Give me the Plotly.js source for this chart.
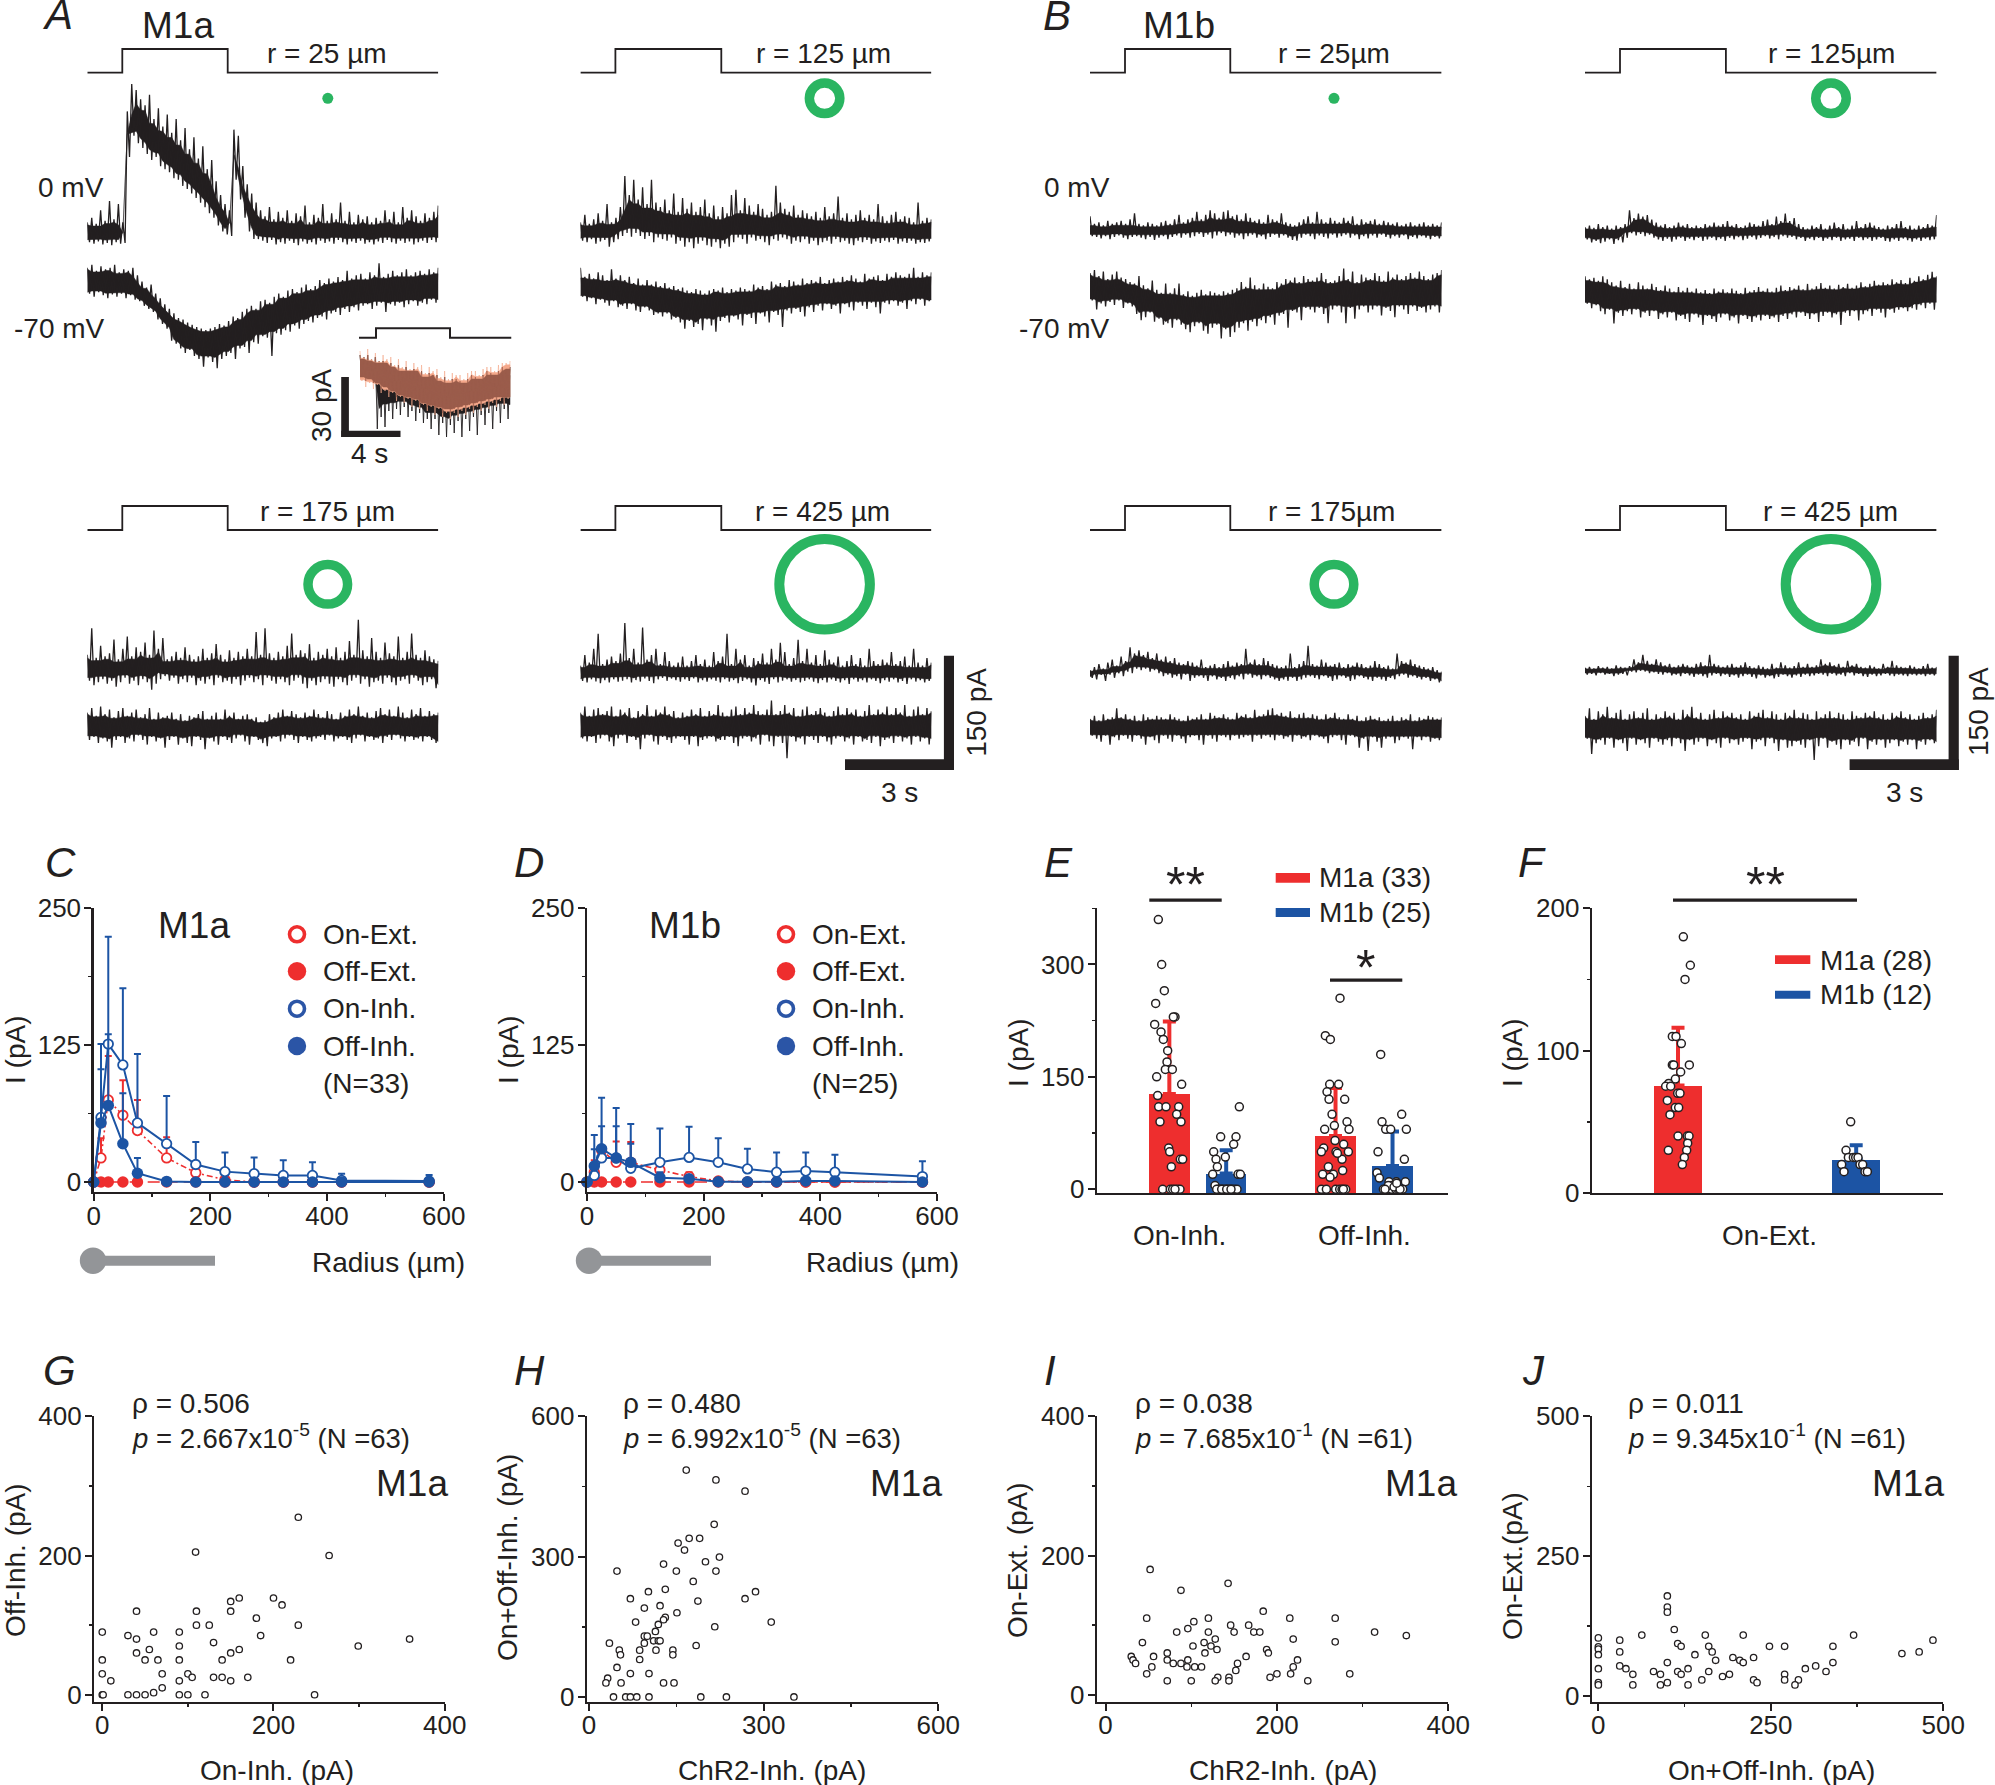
<!DOCTYPE html>
<html><head><meta charset="utf-8">
<script src="https://cdn.plot.ly/plotly-3.0.1.min.js"></script>
<style>html,body{margin:0;padding:0;background:#fff}#g{width:1995px;height:1785px}.xtick text,.ytick text{letter-spacing:-0.8px}</style></head>
<body><div id="g"></div>
<script>
// ---------- recorded traces, read as upper/lower envelopes (pA, relative to each trace's resting level)
const a25ZeroHi=[14,20,12,30,16,42,18,38,14,160,196,188,176,168,182,150,164,140,156,132,150,122,138,110,126,98,114,84,96,68,50,38,30,136,128,88,64,52,40,30,22,34,18,28,20,30,16,26,22,36,14,24,20,38,16,26,18,40,16,28,14,24,18,22,14,20,16,30,18,28,14,34,20,30,22,16,26,20,28,36];
const a25ZeroLo=[-12,-14,-11,-15,-13,-16,-12,-14,-13,100,128,118,112,104,96,100,88,84,80,72,70,62,58,52,46,40,34,26,20,10,2,-2,-4,70,44,20,2,-8,-8,-10,-13,-9,-15,-12,-14,-10,-13,-16,-11,-14,-12,-15,-10,-13,-11,-14,-9,-12,-15,-11,-13,-10,-14,-12,-15,-11,-13,-9,-12,-14,-10,-13,-11,-15,-12,-10,-13,-9,-12,-11];
const a25NegHi=[20,24,16,22,18,20,24,14,18,16,20,10,2,-6,-2,-14,-20,-28,-34,-40,-46,-48,-52,-55,-58,-60,-62,-60,-58,-54,-56,-50,-44,-46,-38,-34,-30,-34,-24,-22,-26,-18,-14,-18,-10,-8,-12,-6,-2,-8,-4,4,0,6,2,8,4,16,6,10,12,6,14,10,26,8,12,16,10,14,18,10,14,16,12,18,14,20];
const a25NegLo=[-14,-18,-12,-16,-20,-15,-18,-14,-20,-16,-22,-24,-30,-34,-38,-48,-54,-60,-76,-80,-86,-92,-88,-96,-100,-110,-98,-104,-112,-100,-96,-92,-100,-86,-84,-92,-78,-80,-70,-72,-96,-66,-68,-62,-64,-56,-60,-54,-50,-52,-46,-44,-48,-40,-38,-42,-34,-38,-32,-36,-30,-28,-34,-30,-26,-38,-28,-30,-26,-32,-28,-24,-30,-26,-28,-22,-26,-24];
const a125ZeroHi=[14,24,12,18,26,16,38,14,20,34,75,50,70,44,60,38,70,40,34,44,30,52,28,46,32,40,28,34,44,26,36,22,34,26,50,57,30,46,36,28,38,32,24,28,62,40,32,28,36,24,30,26,22,28,20,34,22,26,48,20,26,18,24,30,20,24,18,38,22,16,24,28,18,22,20,14,40,16,20,18];
const a125ZeroLo=[-10,-12,-8,-14,-11,-9,-18,-12,-8,-4,0,-5,0,-4,-8,-4,-12,-6,-8,-10,-6,-14,-10,-18,-12,-20,-14,-10,-16,-18,-12,-20,-14,-18,-12,-6,-8,-14,-6,-10,-8,-12,-16,-8,-10,-6,-8,-14,-10,-12,-8,-14,-10,-16,-12,-10,-14,-8,-12,-10,-14,-16,-10,-12,-9,-14,-11,-13,-10,-12,-9,-14,-11,-13,-10,-14,-12,-13,-11,-12];
const a125NegHi=[20,8,12,6,14,10,4,18,6,10,4,8,0,6,-2,4,-2,2,-4,0,-6,-4,-8,-6,-10,-12,-8,-10,-14,-10,-8,-10,-6,-12,-8,-10,-6,-8,-10,-2,-6,-4,-8,2,-2,0,-4,4,2,-2,6,0,4,2,8,0,4,6,2,8,4,10,6,2,12,6,8,10,4,12,8,14,10,8,12,20,8,14,10,14];
const a125NegLo=[-18,-24,-20,-28,-22,-26,-30,-24,-32,-30,-34,-28,-36,-38,-32,-36,-42,-40,-44,-40,-48,-46,-52,-60,-50,-58,-54,-62,-48,-56,-64,-50,-46,-52,-44,-48,-56,-42,-46,-54,-40,-44,-52,-38,-42,-58,-36,-40,-34,-38,-44,-32,-38,-30,-36,-28,-34,-30,-40,-28,-32,-36,-26,-30,-34,-26,-32,-40,-26,-28,-24,-30,-26,-34,-24,-28,-22,-30,-24,-26];
const a175ZeroHi=[20,55,16,32,18,22,40,14,28,44,18,30,24,36,20,52,28,42,14,18,24,16,30,20,14,18,28,16,22,34,20,14,26,16,24,18,28,18,50,20,55,22,16,24,18,32,48,20,26,22,34,16,24,20,28,18,30,16,24,38,20,66,26,18,42,24,16,36,22,18,44,16,24,48,20,16,26,18,14,12];
const a175ZeroLo=[-14,-20,-16,-12,-18,-14,-22,-16,-10,-18,-14,-20,-12,-16,-26,-18,-12,-8,-14,-10,-18,-12,-16,-10,-20,-14,-18,-12,-20,-10,-16,-14,-18,-12,-20,-14,-10,-16,-12,-20,-10,-14,-18,-12,-16,-20,-14,-10,-18,-24,-14,-20,-16,-12,-18,-22,-12,-16,-20,-14,-10,-18,-12,-22,-16,-14,-18,-10,-16,-20,-14,-12,-18,-10,-14,-20,-16,-12,-24,-26];
const a175NegHi=[14,20,10,22,12,18,8,16,20,10,14,18,8,12,20,6,14,8,10,14,6,12,4,10,8,12,16,6,10,14,6,18,10,14,6,10,12,6,8,2,4,12,8,14,18,10,16,12,8,14,10,18,12,8,16,12,6,14,10,18,12,22,10,14,8,16,20,12,18,10,22,14,8,18,12,20,10,16,12,14];
const a175NegLo=[-22,-18,-26,-20,-24,-32,-22,-18,-26,-20,-24,-16,-22,-28,-18,-24,-20,-32,-22,-18,-28,-20,-26,-30,-18,-22,-34,-20,-24,-28,-18,-22,-26,-20,-16,-24,-28,-18,-22,-26,-30,-20,-18,-24,-20,-16,-22,-26,-18,-22,-24,-20,-18,-22,-16,-24,-20,-18,-22,-26,-20,-16,-24,-18,-22,-20,-26,-18,-22,-16,-20,-24,-18,-22,-20,-24,-18,-22,-26,-26];
const a425ZeroHi=[8,22,12,30,50,10,16,20,14,24,64,18,30,12,58,16,22,30,10,26,14,8,12,20,8,14,22,10,16,8,26,14,20,50,10,30,16,22,8,18,14,24,12,30,16,38,26,10,18,42,14,30,12,22,10,28,16,12,20,8,14,22,10,18,8,30,14,10,16,12,26,10,14,20,8,30,12,8,18,12];
const a425ZeroLo=[-12,-14,-10,-13,-15,-11,-14,-10,-13,-12,-10,-14,-11,-13,-9,-12,-15,-10,-8,-12,-9,-11,-13,-10,-12,-9,-14,-11,-13,-10,-12,-14,-10,-13,-11,-15,-12,-10,-14,-18,-11,-13,-16,-10,-14,-12,-10,-13,-11,-14,-12,-10,-13,-15,-11,-14,-10,-12,-14,-11,-16,-10,-13,-11,-14,-10,-12,-15,-11,-13,-10,-14,-12,-16,-10,-13,-11,-14,-12,-13];
const a425NegHi=[14,22,10,18,20,12,16,22,10,18,14,20,8,16,12,24,10,18,14,22,12,16,8,14,10,18,12,20,10,16,12,24,14,10,18,22,12,20,14,24,16,12,18,30,12,16,24,14,20,10,18,22,12,16,20,14,10,16,22,12,20,14,18,10,16,24,12,18,14,22,12,20,14,24,10,18,22,12,20,16];
const a425NegLo=[-20,-24,-18,-26,-20,-16,-24,-30,-20,-16,-26,-18,-22,-34,-20,-16,-24,-28,-18,-22,-26,-20,-18,-22,-28,-18,-30,-22,-20,-18,-24,-22,-22,-18,-26,-30,-20,-18,-24,-20,-28,-16,-24,-30,-18,-26,-46,-18,-24,-20,-28,-18,-22,-26,-18,-24,-28,-20,-18,-24,-20,-28,-18,-24,-22,-26,-18,-30,-22,-20,-26,-18,-24,-20,-28,-18,-24,-20,-28,-22];
const b25ZeroHi=[18,8,10,6,12,8,10,12,8,14,22,8,6,10,8,6,10,12,8,14,20,10,14,16,24,14,20,26,22,16,24,26,18,20,14,22,16,12,14,10,20,14,12,22,10,8,6,10,14,18,10,24,14,10,16,12,10,16,12,18,8,14,10,12,14,8,12,10,8,10,6,8,10,6,8,10,6,8,6,10];
const b25ZeroLo=[-8,-9,-11,-8,-12,-9,-7,-10,-12,-9,-8,-10,-12,-9,-13,-10,-8,-12,-9,-7,-10,-6,-10,-8,-5,-9,-6,-11,-7,-4,-8,-6,-10,-7,-12,-8,-6,-10,-8,-12,-9,-6,-10,-7,-10,-13,-14,-10,-6,-8,-12,-7,-9,-11,-6,-10,-8,-6,-10,-7,-12,-8,-11,-7,-10,-6,-9,-11,-8,-10,-7,-12,-9,-11,-8,-10,-12,-9,-11,-10];
const b25NegHi=[18,22,14,20,10,16,20,12,10,6,4,14,2,-2,8,-4,-8,4,-8,-2,4,-10,-6,-12,-8,-4,-10,-6,-8,-10,-6,-8,-4,-2,6,0,12,2,-2,4,0,-2,6,4,10,8,12,6,14,10,8,12,18,10,6,8,14,24,10,20,6,16,12,10,18,14,8,20,12,16,10,14,18,12,20,14,10,16,18,22];
const b25NegLo=[-18,-30,-22,-26,-20,-24,-18,-28,-22,-26,-36,-44,-40,-34,-46,-42,-50,-48,-54,-44,-50,-56,-60,-52,-48,-58,-62,-54,-50,-68,-56,-66,-60,-54,-48,-58,-46,-52,-44,-48,-40,-50,-38,-36,-54,-32,-34,-44,-28,-30,-34,-28,-36,-48,-30,-26,-34,-48,-28,-42,-30,-26,-34,-30,-26,-38,-28,-32,-40,-26,-30,-36,-26,-32,-28,-34,-30,-26,-34,-28];
const b125ZeroHi=[6,8,5,10,6,8,4,8,6,10,28,18,24,20,22,16,12,8,10,6,8,12,8,10,6,8,6,10,8,12,8,10,14,8,10,6,8,12,10,8,14,16,10,20,14,24,14,18,10,6,4,8,6,10,4,8,12,6,10,4,8,14,6,10,12,8,6,4,8,6,10,14,6,8,4,8,6,10,8,22];
const b125ZeroLo=[-10,-14,-12,-15,-13,-10,-16,-11,-14,-8,-2,-5,-3,-6,-4,-8,-10,-12,-9,-13,-10,-8,-12,-9,-11,-8,-12,-10,-8,-11,-9,-12,-8,-10,-7,-11,-9,-7,-10,-8,-6,-9,-7,-10,-6,-8,-7,-10,-8,-12,-9,-11,-8,-12,-9,-11,-8,-12,-10,-9,-12,-8,-11,-9,-12,-10,-8,-12,-13,-10,-12,-9,-11,-13,-10,-12,-9,-11,-10,-8];
const b125NegHi=[18,14,16,12,18,14,10,6,12,4,8,2,10,6,2,8,4,0,6,2,-2,4,-1,3,-2,2,-3,0,-4,2,-2,1,-3,2,-1,-4,3,-2,0,4,-1,2,-2,3,6,0,4,2,6,1,8,2,5,9,3,6,2,7,4,8,3,6,10,5,8,12,7,10,8,14,10,13,9,16,12,18,14,20,24,18];
const b125NegLo=[-18,-24,-20,-28,-32,-26,-44,-30,-34,-28,-32,-26,-36,-30,-34,-28,-38,-32,-36,-30,-40,-34,-38,-42,-32,-36,-46,-34,-38,-42,-36,-32,-40,-36,-44,-34,-38,-42,-36,-40,-34,-38,-36,-42,-34,-38,-32,-36,-30,-34,-38,-32,-42,-34,-30,-36,-32,-46,-30,-34,-28,-40,-32,-28,-34,-26,-30,-36,-26,-30,-26,-24,-28,-24,-26,-20,-24,-18,-26,-18];
const b175ZeroHi=[2,6,10,4,12,16,8,20,14,32,24,28,22,26,18,24,16,20,14,18,12,10,14,12,8,16,6,8,10,6,10,14,8,12,10,30,12,16,10,18,14,10,8,6,8,24,6,10,14,34,10,8,16,12,8,10,12,6,10,8,12,10,6,8,14,10,6,8,4,24,14,12,16,10,8,6,4,6,2,0];
const b175ZeroLo=[-8,-10,-4,-12,-4,-8,-2,-6,0,-2,4,2,4,0,2,-2,-6,-4,-8,-6,-10,-4,-12,-8,-6,-8,-12,-6,-10,-8,-12,-8,-10,-6,-10,-4,-8,-6,-10,-6,-8,-10,-12,-10,-12,-8,-12,-10,-8,-6,-8,-10,-6,-8,-12,-10,-6,-8,-12,-10,-6,-8,-10,-12,-8,-10,-12,-8,-10,-6,-4,-8,-6,-8,-10,-8,-12,-10,-14,-16];
const b175NegHi=[8,12,6,14,8,10,22,10,14,8,12,6,14,10,8,12,10,8,14,10,8,6,12,8,10,14,8,16,12,10,14,10,8,16,12,14,10,20,12,14,20,22,14,16,12,18,10,14,16,10,14,12,8,14,10,16,10,8,14,8,12,6,10,12,8,10,6,8,12,6,10,8,14,6,10,8,12,10,8,10];
const b175NegLo=[-14,-18,-22,-14,-26,-16,-20,-14,-18,-22,-14,-18,-26,-16,-20,-24,-14,-18,-22,-14,-18,-24,-16,-14,-20,-26,-14,-18,-22,-14,-16,-20,-14,-18,-16,-14,-22,-14,-18,-14,-16,-20,-14,-18,-16,-22,-14,-18,-16,-20,-14,-16,-18,-24,-16,-14,-20,-26,-14,-16,-30,-18,-34,-16,-22,-30,-18,-16,-24,-20,-16,-18,-32,-16,-20,-16,-22,-18,-20,-18];
const b425ZeroHi=[3,4,2,5,3,4,2,6,4,3,5,14,10,20,12,8,14,10,6,8,4,6,8,6,4,8,10,6,20,8,6,4,6,8,4,6,10,5,3,6,4,2,8,3,10,6,3,5,10,4,8,4,6,14,8,10,6,8,4,12,6,8,4,3,6,4,2,8,4,12,6,4,3,6,4,2,5,8,3,4];
const b425ZeroLo=[-6,-5,-7,-4,-6,-5,-8,-6,-5,-7,-2,-3,-1,-2,-4,-3,-5,-6,-4,-7,-6,-8,-5,-7,-9,-6,-8,-10,-7,-5,-8,-6,-9,-7,-10,-8,-6,-9,-11,-7,-10,-8,-11,-9,-6,-8,-10,-7,-9,-6,-8,-7,-5,-6,-8,-5,-7,-6,-8,-4,-7,-5,-8,-9,-6,-8,-7,-5,-7,-8,-6,-7,-8,-6,-7,-6,-8,-6,-7,-6];
const b425NegHi=[12,22,8,18,14,24,10,16,20,8,14,18,10,16,22,8,14,10,18,12,16,8,20,14,24,10,16,8,14,20,10,18,12,16,10,14,8,18,12,16,20,10,18,14,8,16,12,20,10,16,14,8,18,10,14,18,10,16,14,8,18,12,10,16,12,18,10,14,8,16,12,18,10,14,8,12,16,10,14,20];
const b425NegLo=[-18,-38,-24,-20,-26,-18,-30,-20,-24,-34,-18,-26,-20,-24,-30,-18,-22,-26,-20,-28,-18,-24,-34,-20,-26,-22,-18,-28,-20,-24,-30,-18,-24,-20,-26,-22,-18,-32,-22,-20,-28,-18,-24,-34,-20,-30,-28,-22,-26,-30,-20,-46,-28,-18,-30,-22,-26,-32,-20,-26,-22,-28,-18,-32,-22,-26,-20,-30,-24,-20,-28,-22,-26,-20,-32,-22,-26,-20,-24,-30];
// inset of panel A (pA)
const insetSalmonHi=[13,10,14,9,12,8,11,9,10,6,9,5,8,4,7,5,6,2,5,3,4,0,3,-1,2,1,1,-1,2,3,3,1,4,5,5,3,6,7,7,8];
const insetSalmonLo=[-2,-5,-3,-6,-4,-8,-7,-10,-8,-12,-10,-13,-11,-15,-12,-16,-14,-17,-15,-19,-16,-20,-18,-21,-18,-20,-17,-19,-16,-18,-15,-17,-14,-16,-13,-15,-12,-14,-11,-12];
const insetBrownHi=[11,9,11,8,10,7,8,7,7,5,6,3,5,3,4,3,3,0,2,1,1,-2,0,-3,-1,-1,-2,-3,-1,1,0,-1,1,3,2,1,3,5,4,5];
const insetBrownLo=[0,-2,-1,-3,-3,-6,-5,-8,-7,-10,-9,-11,-10,-12,-11,-14,-13,-15,-14,-16,-15,-18,-16,-18,-16,-17,-15,-16,-14,-15,-13,-14,-12,-13,-11,-12,-10,-12,-10,-10];
const insetBlackHi=[11,10,11,9,10,8,8,6,7,5,6,4,5,3,4,2,3,1,2,0,1,-1,0,-2,-1,-3,-2,-2,-1,-1,0,0,1,1,2,2,3,3,4,5];
const insetBlackLo=[0,-1,-1,-3,-26,-20,-25,-17,-21,-16,-19,-15,-20,-17,-22,-18,-23,-21,-26,-21,-29,-23,-30,-24,-28,-22,-30,-21,-27,-20,-29,-19,-24,-18,-26,-17,-23,-16,-21,-17];

// ---------- panels C, D
const radius=[0,12.5,25,50,75,125,175,225,275,325,375,425,575];
const seriesNames=['On-Ext.','Off-Ext.','On-Inh.','Off-Inh.'];
const cOnExt=[0,22,75,61,47,22,8.5,2,0,0,0,0,0];
const cOnExtTop=[0,40,115,93,75,41,16,6,1.5,4,0,0,0];
const cOffExt=[0,0,0,0,0,0,0,0,0,0,0,0,0];
const cOffExtTop=[0,1,1,1,1,1,1,1,1,1,0,0,0];
const cOnInh=[0,59,126,107,54,35,16,9.5,7.6,6,6,1.5,1];
const cOnInhTop=[0,126,224,177,117,78.5,36.5,27,22.5,20,18,7.6,6.4];
const cOffInh=[0,54,70,35,8,0.6,0,0,0,0,0,0,0];
const cOffInhTop=[0,103,135,81,22,3,0.5,0.5,0.5,0.5,0.5,0.5,0.5];
const dOnExt=[0,9,29,18,18,11,5,1,0,0,0,0,0];
const dOnExtTop=[0,20,33,37,36.5,15,9,2,0,0,0,0,0];
const dOffExt=[0,0,0,0,0,0,0,0,0,0,0,0,0];
const dOffExtTop=[0,1,1,1,1,1,1,1,1,1,1,1,0];
const dOnInh=[0,6,22,22,12.5,18,22.5,18,12,9,10,9,5];
const dOnInhTop=[0,43,77,67.6,53,49,50.5,40,30.5,27,27,25,19];
const dOffInh=[0,14.6,30.4,22,18,4,3,0.3,0.3,0.3,1,1,0];
const dOffInhTop=[0,30,51,51,35,9,5,1,1,1,2,2,0.5];
const xRadiusTicks=[0,200,400,600], xRadiusMinor=[100,300,500], yCurrentTicks=[0,125,250], yCurrentMinor=[62.5,187.5];

// ---------- panels E, F
const eCategories=['On-Inh.','Off-Inh.'];
const eLegend=['M1a (33)','M1b (25)'];
const eMeanM1a=[127,71], eMeanM1b=[21,31], eErrM1a=[97,64], eErrM1b=[31,46];
const eOnM1aPos=[475,485,493,467,525,520,464,483,490,503,501,496,517,470,545,473,476,498,536,530,480,543,506,509,541,548,514,488,511,518,532,540,525];
const eOnM1aVal=[360,300,265,248,230,230,220,210,200,185,170,160,160,150,140,125,110,110,110,100,90,90,55,50,40,40,30,0,0,0,0,0,0];
const eOnM1bPos=[718,662,708,701,641,676,648,652,638,714,721,645,655,662,669,676,683,690,697,704,711,650,665,680,693];
const eOnM1bVal=[110,70,70,60,50,43,40,30,20,20,20,5,0,0,0,0,0,0,0,0,0,0,0,0,0];
const eOffM1aPos=[1020,976,991,989,1016,981,987,1034,996,1041,1003,974,1047,1005,1031,971,964,1008,1045,1026,985,968,1000,1028,964,979,1007,1019,1026,1037,1012,1030,990];
const eOffM1aVal=[255,205,200,140,140,130,120,120,100,90,85,80,80,65,60,55,50,50,50,40,30,20,20,25,0,0,0,0,0,0,48,0,16];
const eOffM1bPos=[1142,1205,1146,1157,1172,1219,1134,1213,1131,1138,1189,1216,1167,1175,1150,1160,1175,1187,1195,1208,1165,1182,1200,1155,1190];
const eOffM1bVal=[180,100,90,80,80,80,50,40,22,15,10,10,10,5,0,0,0,0,0,0,5,3,0,0,8];
const fCategory=['On-Ext.'];
const fLegend=['M1a (28)','M1b (12)'];
const fMeanM1a=[75.5], fMeanM1b=[23.5], fErrM1a=[40.5], fErrM1b=[10];
const fM1aPos=[580,601,585,547,558,574,547,551,598,572,556,536,527,542,563,570,532,556,566,540,564,592,597,593,535,590,583,577];
const fM1aVal=[180,160,150,110,110,105,90,90,90,85,80,77,75,75,70,70,65,60,60,55,40,40,40,35,30,30,25,20];
const fM1bPos=[1082,1068,1075,1090,1097,1104,1055,1110,1118,1062,1125,1132];
const fM1bVal=[50,30,25,25,25,25,20,20,20,15,15,15];

// ---------- panels G-J
const gX=[229,109,265,160,150,200,210,40,110,150,180,110,125,229,0,60,90,30,185,40,359,130,90,299,55,160,40,150,0,50,65,90,140,220,0,70,100,105,130,140,170,10,90,150,70,60,0,1,30,40,50,90,100,120,248];
const gY=[255,205,200,139,134,139,129,120,120,120,110,100,100,100,90,90,90,85,85,80,80,75,70,70,65,65,60,60,50,50,50,50,50,50,30,30,30,25,25,25,25,20,20,20,10,3,0,0,0,0,0,0,0,0,0];
const hX=[167,218,268,215,172,190,153,164,224,200,128,48,150,218,179,131,102,286,71,268,187,122,95,151,131,128,80,313,119,216,114,95,100,111,119,122,95,35,184,52,87,115,144,54,144,87,48,71,103,32,29,55,128,146,42,63,71,82,103,192,236,352];
const hY=[485,464,440,369,339,339,329,314,299,289,284,269,269,269,247,230,225,225,210,210,205,195,190,180,170,165,160,160,155,150,140,130,130,120,120,120,115,115,110,100,100,100,100,90,90,80,63,50,50,40,30,30,30,30,0,0,0,0,0,0,0,0];
const iX=[52,143,88,184,48,120,215,268,103,146,167,96,83,120,150,173,180,314,351,128,219,268,43,115,102,123,130,188,72,116,190,30,56,164,32,72,96,224,35,79,88,154,54,95,104,112,219,152,48,200,216,285,131,144,192,72,100,128,144,236];
const iY=[180,160,150,120,110,110,110,110,105,100,100,95,90,90,90,90,90,90,85,80,80,76,75,75,70,70,65,65,60,60,60,55,55,55,50,50,50,50,45,45,45,45,40,40,40,40,40,35,30,30,30,30,25,25,25,20,20,20,20,20];
const jX=[100,100,100,110,0,63,155,210,370,31,485,115,120,160,248,270,340,0,0,165,31,465,440,0,140,195,225,205,170,210,100,340,31,315,40,130,300,0,115,160,80,330,50,90,120,190,270,180,150,225,270,290,230,100,0,0,50,90,130,285];
const jY=[179,159,150,119,104,109,109,109,109,100,100,94,89,89,89,89,89,88,84,79,79,79,76,74,74,69,69,64,64,60,60,60,54,54,49,49,49,49,44,44,44,44,39,39,39,39,39,35,29,29,29,29,24,24,24,20,20,20,20,20];

// ---------- helpers
const W=1995,H=1785, INK='#231f20', RED='#ee2e2e', BLUE='#1c54a4', LEGBLUE='#2b55a6', GREEN='#2ab561', GRAY='#939598';
const FONT='"Liberation Sans", Arial, sans-serif';
const TXT=28, NOFILL='rgba(0,0,0,0)';
const fx=p=>p/W, fy=p=>1-p/H;
const traces=[], annotations=[], shapes=[];
const layout={width:W,height:H,margin:{l:0,r:0,t:0,b:0,pad:0},paper_bgcolor:'#fff',plot_bgcolor:'rgba(0,0,0,0)',showlegend:false,font:{family:FONT,color:INK,size:TXT},hovermode:false,bargap:0};
let axN=0;
function addAxes(x0,x1,top,bot,xo,yo){
  axN++; const s=axN===1?'':String(axN);
  layout['xaxis'+s]=Object.assign({domain:[fx(x0),fx(x1)],anchor:'y'+s,fixedrange:true},xo);
  layout['yaxis'+s]=Object.assign({domain:[fy(bot),fy(top)],anchor:'x'+s,fixedrange:true},yo);
  return {xaxis:'x'+s,yaxis:'y'+s};
}
function label(text,x,y,size,o){annotations.push(Object.assign({text:String(text),xref:'paper',yref:'paper',x:fx(x),y:fy(y),showarrow:false,xanchor:'center',yanchor:'middle',borderpad:0,borderwidth:0,font:{family:FONT,size:size,color:INK}},o||{}));}
function rectPx(x0,y0,x1,y1,color){shapes.push({type:'rect',xref:'paper',yref:'paper',x0:fx(x0),x1:fx(x1),y0:fy(y0),y1:fy(y1),fillcolor:color,line:{width:0}});}
function circlePx(cx,cy,r,fill,lw,lc){shapes.push({type:'circle',xref:'paper',yref:'paper',x0:fx(cx-r),x1:fx(cx+r),y0:fy(cy-r),y1:fy(cy+r),fillcolor:fill,line:{width:lw||0,color:lc||fill}});}
function axisStyle(range,major,minor,extra){
  return Object.assign({range:range,tickmode:'array',tickvals:major,ticktext:major.map(String),ticks:'outside',ticklen:7,tickwidth:2,tickcolor:INK,showline:true,linewidth:2.4,linecolor:INK,showgrid:false,zeroline:false,ticklabelstandoff:-2,tickfont:{family:FONT,size:26,color:INK},
    minor:minor?{tickmode:'array',tickvals:minor,ticks:'outside',ticklen:3,tickwidth:1.5,tickcolor:INK,showgrid:false}:undefined},extra||{});
}
const xStyle=(r,m,n)=>axisStyle(r,m,n,{ticklabelstandoff:-8});
const PX_PER_PA=0.76, PX_PER_S=35.8;
// one recorded trace: a solid core inside the envelopes' local limits, with the noise drawn as a zigzag between them
function band(ax,hi,lo,offset,t0,t1,color,coreK,lw){
  const n=Math.min(hi.length,lo.length), tAt=i=>t0+i/(n-1)*(t1-t0);
  const cHi=[],cLo=[],tC=[];
  for(let i=0;i<n;i++){
    const a=Math.max(0,i-1),b=Math.min(n-1,i+1);
    let u=Math.min(hi[a],hi[i],hi[b]),d=Math.max(lo[a],lo[i],lo[b]);
    if(u<d){const m=(hi[i]+lo[i])/2;u=m;d=m;}
    const m=(u+d)/2;
    cHi.push(m+(u-m)*coreK+offset);cLo.push(m+(d-m)*coreK+offset);tC.push(tAt(i));
  }
  traces.push(Object.assign({type:'scatter',mode:'lines',x:tC.concat(tC.slice().reverse()),y:cHi.concat(cLo.slice().reverse()),fill:'toself',fillcolor:color,line:{color:color,width:0.5},hoverinfo:'skip',cliponaxis:false},ax));
  const zx=[],zy=[];
  for(let i=0;i<n;i++){zx.push(tAt(i));zy.push(hi[i]+offset);if(i<n-1){zx.push(tAt(i+0.5));zy.push(lo[i]+offset);}}
  traces.push(Object.assign({type:'scatter',mode:'lines',x:zx,y:zy,line:{color:color,width:lw,simplify:false},hoverinfo:'skip',cliponaxis:false},ax));
}
function tracePanel(p){
  const wS=p.w/PX_PER_S;
  const ax=addAxes(p.x,p.x+p.w,p.top,p.bot,{visible:false,range:[0,wS]},{visible:false,range:[-(p.bot-p.top)/PX_PER_PA,0]});
  const toV=px=>-(px-p.top)/PX_PER_PA;
  band(ax,p.zeroHi,p.zeroLo,toV(p.base0),0,wS,INK,0.75,1.3);
  band(ax,p.negHi,p.negLo,toV(p.base70),0,wS,INK,0.9,1.3);
  const lo=toV(p.stimLow),hi=toV(p.stimHigh),on=p.on/PX_PER_S,off=p.off/PX_PER_S;
  traces.push(Object.assign({type:'scatter',mode:'lines',x:[0,on,on,off,off,wS],y:[lo,lo,hi,hi,lo,lo],line:{color:INK,width:1.8},cliponaxis:false,hoverinfo:'skip'},ax));
}
const ROW1={top:40,bot:400,stimLow:72.7,stimHigh:49}, ROW2={top:495,bot:785,stimLow:530,stimHigh:506};
tracePanel({...ROW1,x:87.3,w:351,on:35,off:140.4,base0:233,base70:283,zeroHi:a25ZeroHi,zeroLo:a25ZeroLo,negHi:a25NegHi,negLo:a25NegLo});
tracePanel({...ROW1,x:580.4,w:351,on:35,off:140.9,base0:233,base70:283,zeroHi:a125ZeroHi,zeroLo:a125ZeroLo,negHi:a125NegHi,negLo:a125NegLo});
tracePanel({...ROW2,x:87.3,w:351,on:35,off:140.4,base0:670,base70:723.3,zeroHi:a175ZeroHi,zeroLo:a175ZeroLo,negHi:a175NegHi,negLo:a175NegLo});
tracePanel({...ROW2,x:580.4,w:351,on:35,off:140.9,base0:671.7,base70:723.3,zeroHi:a425ZeroHi,zeroLo:a425ZeroLo,negHi:a425NegHi,negLo:a425NegLo});
tracePanel({...ROW1,x:1090,w:351.6,on:35,off:140.3,base0:230,base70:286.7,zeroHi:b25ZeroHi,zeroLo:b25ZeroLo,negHi:b25NegHi,negLo:b25NegLo});
tracePanel({...ROW1,x:1585,w:351.6,on:35,off:140.9,base0:231.7,base70:290,zeroHi:b125ZeroHi,zeroLo:b125ZeroLo,negHi:b125NegHi,negLo:b125NegLo});
tracePanel({...ROW2,x:1090,w:351.6,on:35,off:140.3,base0:671.7,base70:725,zeroHi:b175ZeroHi,zeroLo:b175ZeroLo,negHi:b175NegHi,negLo:b175NegLo});
tracePanel({...ROW2,x:1585,w:351.6,on:35,off:140.9,base0:670,base70:725,zeroHi:b425ZeroHi,zeroLo:b425ZeroLo,negHi:b425NegHi,negLo:b425NegLo});
// inset
(function(){
  const INSET_PX_S=14.75, INSET_PX_PA=2, top=320, bot=445, x0=359, x1=511.5;
  const ax=addAxes(x0,x1,top,bot,{visible:false,range:[0,(x1-x0)/INSET_PX_S]},{visible:false,range:[-(bot-377)/INSET_PX_PA,(377-top)/INSET_PX_PA]});
  const t0=1/INSET_PX_S,t1=151/INSET_PX_S;
  band(ax,insetBlackHi,insetBlackLo,0,t0,t1,INK,0.7,0.9);
  band(ax,insetSalmonHi,insetSalmonLo,0,t0,t1,'#f5a98c',0.9,0.6);
  band(ax,insetBrownHi,insetBrownLo,0,t0,t1,'#9b5c4b',1,0.6);
  const lo=(377-337.7)/INSET_PX_PA,hi=(377-328.3)/INSET_PX_PA,on=17/INSET_PX_S,off=91/INSET_PX_S;
  traces.push(Object.assign({type:'scatter',mode:'lines',x:[0,on,on,off,off,(x1-x0)/INSET_PX_S],y:[lo,lo,hi,hi,lo,lo],line:{color:INK,width:2},cliponaxis:false,hoverinfo:'skip'},ax));
})();
// trace panel text
label('<i>A</i>',57,15,42); label('<i>B</i>',1057,16,42);
label('M1a',178,26,37); label('M1b',1179,26,37);
[['r = 25 µm',327,53],['r = 125 µm',823.7,53],['r = 175 µm',327.5,512],['r = 425 µm',822,512],['r = 25µm',1334,53],['r = 125µm',1831,53],['r = 175µm',1331,512],['r = 425 µm',1830,512]].forEach(a=>label(a[0],a[1],a[2],TXT));
[['0 mV',71,188],['-70 mV',59,328],['0 mV',1077,188],['-70 mV',1064.4,328]].forEach(a=>label(a[0],a[1],a[2],TXT));
// stimulus spots
[327.8,1334].forEach(x=>circlePx(x,98.3,5.5,GREEN));
[824.6,1831].forEach(x=>circlePx(x,98.3,15.25,NOFILL,9.5,GREEN));
[327.8,1334].forEach(x=>circlePx(x,584.3,19.8,NOFILL,9.5,GREEN));
[824.6,1831].forEach(x=>circlePx(x,584.3,45.3,NOFILL,10,GREEN));
// scale bars
rectPx(341.2,377,348.9,437,INK); rectPx(341.2,430.7,400.5,437,INK);
label('30 pA',322,406,TXT,{textangle:-90}); label('4 s',369,453,TXT);
rectPx(943.9,655.7,954,770,INK); rectPx(845,759.3,954,770,INK);
label('150 pA',975.8,712,TXT,{textangle:-90}); label('3 s',899,792,TXT);
rectPx(1948.6,655.7,1958.8,770,INK); rectPx(1849.6,759.3,1958.8,770,INK);
label('150 pA',1978,712,TXT,{textangle:-90}); label('3 s',1904,792,TXT);

// ---------- C, D
function sweep(ax,y,top,color,filled,dash){
  traces.push(Object.assign({type:'scatter',mode:'lines+markers',x:radius,y:y,cliponaxis:false,hoverinfo:'skip',
    line:{color:color,width:dash?1.6:2,dash:dash||'solid'},
    marker:{size:filled?11.5:9.5,color:filled?color:'#fff',line:{color:color,width:filled?0:1.8}},
    error_y:{type:'data',symmetric:false,array:top.map((t,i)=>Math.max(0,t-y[i])),arrayminus:y.map(()=>0),color:color,thickness:2,width:3.5}},ax));
}
function radiusPanel(x0,letter,lx,cell,cellX,series,legX,n,ylabX,lolliX,radX){
  const ax=addAxes(x0,x0+350,908.3,1192,xStyle([0,600],xRadiusTicks,xRadiusMinor),axisStyle([-9.1,250],yCurrentTicks,yCurrentMinor));
  sweep(ax,series[0],series[1],RED,false,'6px,3px,2px,3px');
  sweep(ax,series[2],series[3],RED,true,'12px,6px');
  sweep(ax,series[4],series[5],BLUE,false);
  sweep(ax,series[6],series[7],BLUE,true);
  label('<i>'+letter+'</i>',lx,862,42);
  label(cell,cellX,925,37);
  const ys=[934.3,971.3,1008.7,1046];
  seriesNames.forEach((s,i)=>{
    label(s,legX+26,ys[i],TXT,{xanchor:'left'});
    const c=i<2?RED:LEGBLUE;
    if(i%2===0) circlePx(legX,ys[i],7.5,'#fff',3.6,c); else circlePx(legX,ys[i],9.2,c);
  });
  label(n,legX+26,1083.3,TXT,{xanchor:'left'});
  label('I (pA)',ylabX,1050,TXT,{textangle:-90});
  rectPx(lolliX,1255.7,lolliX+122,1265.7,GRAY); circlePx(lolliX,1260.7,13.2,GRAY);
  label('Radius (µm)',radX,1262.7,TXT,{xanchor:'right'});
}
radiusPanel(93.7,'C',60,'M1a',194,[cOnExt,cOnExtTop,cOffExt,cOffExtTop,cOnInh,cOnInhTop,cOffInh,cOffInhTop],297,'(N=33)',15,93,465);
radiusPanel(587,'D',529,'M1b',685,[dOnExt,dOnExtTop,dOffExt,dOffExtTop,dOnInh,dOnInhTop,dOffInh,dOffInhTop],786,'(N=25)',508,589,959);

// ---------- E, F
function dots(ax,xs,ys,size,lw){traces.push(Object.assign({type:'scatter',mode:'markers',x:xs,y:ys,cliponaxis:false,hoverinfo:'skip',marker:{size:size,color:'#fff',line:{color:INK,width:lw}}},ax));}
function meanBar(ax,pos,mean,err,width,base,color){
  traces.push(Object.assign({type:'bar',x:pos,y:mean.map(v=>v-base),base:pos.map(()=>base),width:pos.map(()=>width),marker:{color:color,line:{width:0}},hoverinfo:'skip'},ax));
  traces.push(Object.assign({type:'scatter',mode:'markers',x:pos,y:mean,marker:{size:1,opacity:0},hoverinfo:'skip',error_y:{type:'data',symmetric:false,array:err,arrayminus:err.map(()=>0),color:color,thickness:4,width:6.5}},ax));
}
const noXTicks={ticks:'',tickmode:'array',tickvals:[],showline:true,linewidth:2.4,linecolor:INK,showgrid:false,zeroline:false};
const axE=addAxes(1097,1447.7,908.3,1193,Object.assign({range:[291,1343]},noXTicks),axisStyle([-5,375],[0,150,300],[75,225,375]));
meanBar(axE,[508,1006.5],eMeanM1a,eErrM1a,121,-5,RED);
meanBar(axE,[678.5,1177.5],eMeanM1b,eErrM1b,121,-5,BLUE);
dots(axE,eOnM1aPos,eOnM1aVal,8,1.5); dots(axE,eOnM1bPos,eOnM1bVal,8,1.5); dots(axE,eOffM1aPos,eOffM1aVal,8,1.5); dots(axE,eOffM1bPos,eOffM1bVal,8,1.5);
label('<i>E</i>',1058,862,42);
label('I (pA)',1018,1053,TXT,{textangle:-90});
label(eCategories[0],1179.3,1235.7,TXT); label(eCategories[1],1364.7,1235.7,TXT);
rectPx(1149.3,898.4,1221.7,901.8,INK); label('**',1185,885,50);
rectPx(1330,978.4,1402.3,981.8,INK); label('*',1365.7,968,50);
rectPx(1275.7,873,1310,882.7,RED); label(eLegend[0],1319,877.7,TXT,{xanchor:'left'});
rectPx(1275.7,908,1310,917,BLUE); label(eLegend[1],1319,912.7,TXT,{xanchor:'left'});

const axF=addAxes(1592,1942.7,908.3,1193,Object.assign({range:[306,1358]},noXTicks),axisStyle([0,200],[0,100,200],[50,150]));
meanBar(axF,[564],fMeanM1a,fErrM1a,144,0,RED);
meanBar(axF,[1098.5],fMeanM1b,fErrM1b,144,0,BLUE);
dots(axF,fM1aPos,fM1aVal,8,1.5); dots(axF,fM1bPos,fM1bVal,8,1.5);
label('<i>F</i>',1532,862,42);
label('I (pA)',1512,1053,TXT,{textangle:-90});
label(fCategory[0],1769.3,1235.7,TXT);
rectPx(1673,898.4,1857,901.8,INK); label('**',1765,885,50);
rectPx(1775,955.3,1810.3,964,RED); label(fLegend[0],1820,960,TXT,{xanchor:'left'});
rectPx(1775,990.7,1810.3,998.7,BLUE); label(fLegend[1],1820,994,TXT,{xanchor:'left'});

// ---------- G-J
function scatterPanel(o){
  const ax=addAxes(o.x0,o.x1,1416.3,1701.7,xStyle(o.xr,o.xt,o.xm),axisStyle(o.yr,o.yt,o.ym));
  dots(ax,o.xs,o.ys,6.4,1.3);
  label('<i>'+o.letter+'</i>',o.lx,1370,42);
  label('ρ = '+o.rho,o.tx,1403,TXT,{xanchor:'left'});
  label('<i>p</i> = '+o.p+' (N ='+o.n+')',o.tx,1436,27.5,{xanchor:'left'});
  label('M1a',o.mx,1483,37);
  label(o.xl,o.xlx,1770,TXT);
  label(o.yl,o.ylx,o.yly,TXT,{textangle:-90});
}
scatterPanel({x0:94.3,x1:444.7,xr:[-9.3,400],xt:[0,200,400],xm:[100,300],yr:[-10,400],yt:[0,200,400],ym:[100,300],xs:gX,ys:gY,letter:'G',lx:59,rho:'0.506',p:'2.667x10<sup>-5</sup>',n:63,tx:131.7,mx:411.7,xl:'On-Inh. (pA)',xlx:276.7,yl:'Off-Inh. (pA)',ylx:15,yly:1560});
scatterPanel({x0:587,x1:938.3,xr:[-3.5,600],xt:[0,300,600],xm:[150,450],yr:[-10.2,600],yt:[0,300,600],ym:[150,450],xs:hX,ys:hY,letter:'H',lx:529,rho:'0.480',p:'6.992x10<sup>-5</sup>',n:63,tx:623,mx:905.7,xl:'ChR2-Inh. (pA)',xlx:772.3,yl:'On+Off-Inh. (pA)',ylx:507,yly:1558});
scatterPanel({x0:1097,x1:1448.3,xr:[-10,400],xt:[0,200,400],xm:[100,300],yr:[-10,400],yt:[0,200,400],ym:[100,300],xs:iX,ys:iY,letter:'I',lx:1050,rho:'0.038',p:'7.685x10<sup>-1</sup>',n:61,tx:1135,mx:1420.7,xl:'ChR2-Inh. (pA)',xlx:1283.3,yl:'On-Ext. (pA)',ylx:1017,yly:1560});
scatterPanel({x0:1592,x1:1943.3,xr:[-9.2,500],xt:[0,250,500],xm:[125,375],yr:[-10,500],yt:[0,250,500],ym:[125,375],xs:jX,ys:jY,letter:'J',lx:1533,rho:'0.011',p:'9.345x10<sup>-1</sup>',n:61,tx:1628.3,mx:1907.7,xl:'On+Off-Inh. (pA)',xlx:1771.7,yl:'On-Ext.(pA)',ylx:1512,yly:1566});

layout.annotations=annotations; layout.shapes=shapes;
Plotly.newPlot('g',traces,layout,{displayModeBar:false,staticPlot:true});
</script></body></html>
